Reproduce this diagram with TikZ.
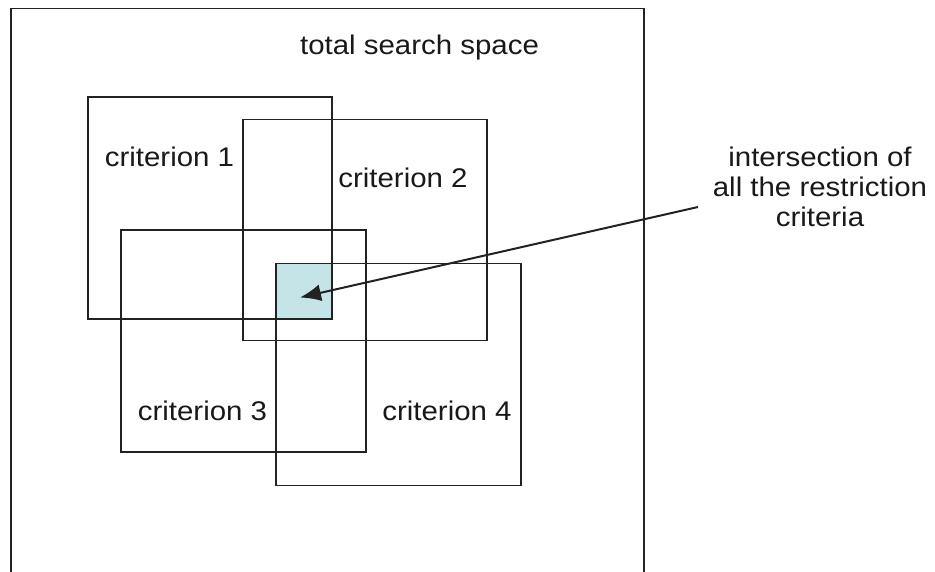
\documentclass[tikz,border=0pt]{standalone}
\usepackage{fontspec}
\setmainfont{Liberation Sans}[FakeStretch=1.09]
\usetikzlibrary{arrows.meta}
\definecolor{edge}{HTML}{222222}
\definecolor{overlap}{HTML}{C5E4E8}
\tikzset{
  crit/.style={draw=edge, line width=1.5pt, anchor=north west, inner sep=0pt, outer sep=0pt},
  label/.style={font=\fontsize{27}{30}\selectfont, text=black!90, anchor=base, inner sep=0pt},
}
\begin{document}
\begin{tikzpicture}[x=1pt, y=-1pt]
  \clip (0,0) rectangle (935,571);
  \useasboundingbox (0,0) rectangle (935,571);

  % total search space (continues below the lower edge)
  \node[draw=edge, line width=1.8pt, anchor=north west, inner sep=0pt,
        minimum width=633pt, minimum height=600pt] (space) at (10,7.5) {};
  \node[label] (spacetext) at (419.5,54) {total search space};

  % shaded common region
  \node[fill=overlap, anchor=north west, inner sep=0pt,
        minimum width=56pt, minimum height=55pt] (meet) at (276,263.5) {};

  % the four criteria
  \node[crit, minimum width=244pt, minimum height=222pt] (c1) at (88,97) {};
  \node[crit, minimum width=244pt, minimum height=221pt] (c2) at (243,119.5) {};
  \node[crit, minimum width=245pt, minimum height=222pt] (c3) at (121,230) {};
  \node[crit, minimum width=245pt, minimum height=222pt] (c4) at (276,263.5) {};

  \node[label] (t1) at (169.5,166) {criterion 1};
  \node[label] (t2) at (403,187) {criterion 2};
  \node[label] (t3) at (202.5,420) {criterion 3};
  \node[label] (t4) at (447,420) {criterion 4};

  % annotation with pointer
  \node[label, align=center, anchor=north] (note) at (820,147)
    {intersection of\\all the restriction\\criteria};
  \coordinate (from) at (698,207);
  \coordinate (tip) at (300,297.5);
  \draw[edge, line width=2pt, -{Latex[length=21pt, width=17pt]}] (from) -- (tip);
\end{tikzpicture}
\end{document}
